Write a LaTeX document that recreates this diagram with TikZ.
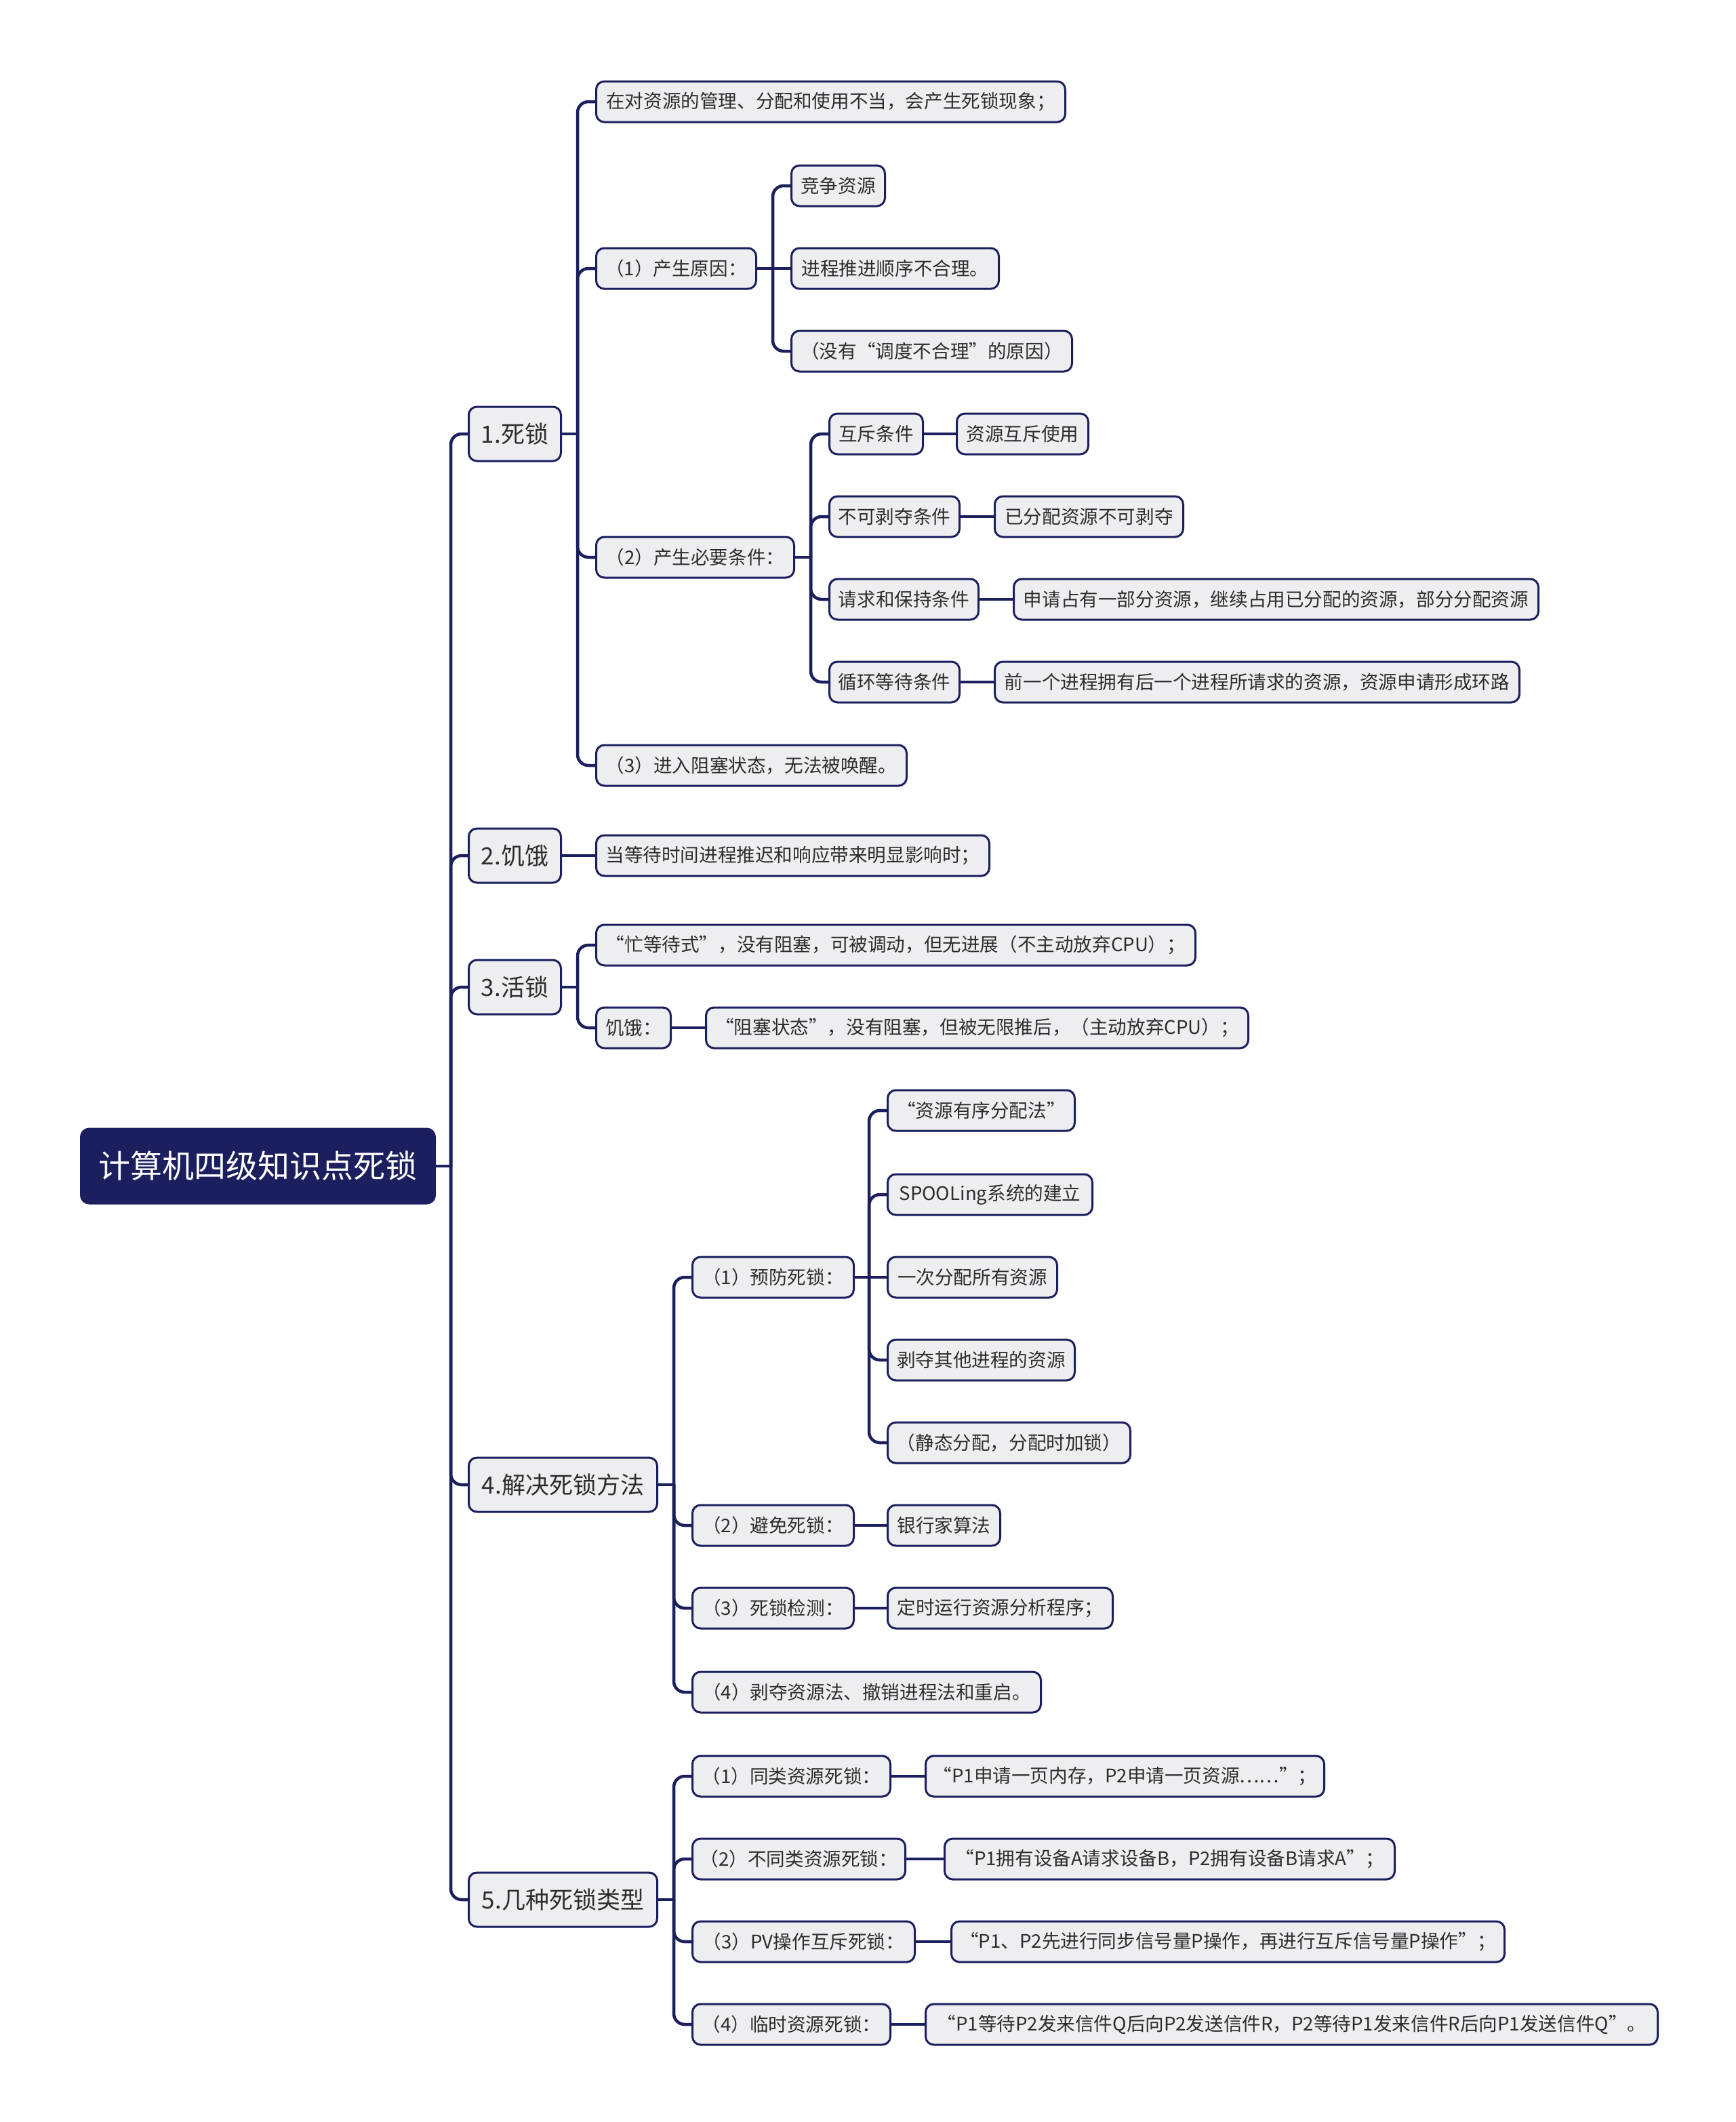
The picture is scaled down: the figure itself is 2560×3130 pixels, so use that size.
\documentclass[tikz,border=0pt]{standalone}
\usepackage{fontspec}
\setmainfont{Noto Sans CJK SC}
\definecolor{navy}{RGB}{27,31,94}
\definecolor{boxgray}{RGB}{238,238,240}
\definecolor{txt}{RGB}{45,45,45}
\begin{document}
\begin{tikzpicture}[x=1pt,y=-1pt,
 conn/.style={draw=navy, line width=4.5pt, line cap=round},
 bconn/.style={conn, rounded corners=16pt},
 box/.style={draw=navy, line width=3pt, fill=boxgray, rounded corners=12pt, anchor=west, text=txt, inner xsep=6pt, inner ysep=0pt, align=center},
 leaf/.style={box, font=\fontsize{27.6}{33}\selectfont, minimum height=60pt},
 lone/.style={box, font=\fontsize{35}{42}\selectfont, minimum height=80pt},
 rootn/.style={box, fill=navy, text=white, font=\fontsize{47}{56}\selectfont, minimum height=110pt}]
\fill[white] (0,0) rectangle (2560,3130);
\useasboundingbox (0,0) rectangle (2560,3130);

% root
\node[rootn, minimum width=522pt] (root) at (118,1720) {计算机四级知识点死锁};

% level 1
\node[lone, minimum width=136pt] (n1) at (690,640) {1.死锁};
\node[lone, minimum width=136pt] (n2) at (690,1262) {2.饥饿};
\node[lone, minimum width=136pt] (n3) at (690,1456) {3.活锁};
\node[lone, minimum width=278pt] (n4) at (690,2190) {4.解决死锁方法};
\node[lone, minimum width=278pt] (n5) at (690,2802) {5.几种死锁类型};

% children of 1
\node[leaf, minimum width=692pt] (a1) at (878,150) {在对资源的管理、分配和使用不当，会产生死锁现象；};
\node[leaf, minimum width=236pt] (a2) at (878,396) {（1）产生原因：};
\node[leaf, minimum width=292pt] (a3) at (878,822) {（2）产生必要条件：};
\node[leaf, minimum width=458pt] (a4) at (878,1129) {（3）进入阻塞状态，无法被唤醒。};

\node[leaf, minimum width=138pt] (c1) at (1166,274) {竞争资源};
\node[leaf, minimum width=306pt] (c2) at (1166,396) {进程推进顺序不合理。};
\node[leaf, minimum width=414pt] (c3) at (1166,518) {（没有“调度不合理”的原因）};

\node[leaf, minimum width=138pt] (b1) at (1222,640) {互斥条件};
\node[leaf, minimum width=192pt] (b2) at (1222,762) {不可剥夺条件};
\node[leaf, minimum width=220pt] (b3) at (1222,884) {请求和保持条件};
\node[leaf, minimum width=192pt] (b4) at (1222,1006) {循环等待条件};
\node[leaf, minimum width=194pt] (d1) at (1410,640) {资源互斥使用};
\node[leaf, minimum width=278pt] (d2) at (1466,762) {已分配资源不可剥夺};
\node[leaf, minimum width=774pt] (d3) at (1494,884) {申请占有一部分资源，继续占用已分配的资源，部分分配资源};
\node[leaf, minimum width=774pt] (d4) at (1466,1006) {前一个进程拥有后一个进程所请求的资源，资源申请形成环路};

% children of 2
\node[leaf, minimum width=580pt] (e1) at (878,1262) {当等待时间进程推迟和响应带来明显影响时；};

% children of 3
\node[leaf, minimum width=884pt] (f1) at (878,1394) {“忙等待式”，没有阻塞，可被调动，但无进展（不主动放弃CPU）；};
\node[leaf, minimum width=110pt] (f2) at (878,1516) {饥饿：};
\node[leaf, minimum width=800pt] (f3) at (1040,1516) {“阻塞状态”，没有阻塞，但被无限推后，（主动放弃CPU）；};

% children of 4
\node[leaf, minimum width=238pt] (g1) at (1020,1884) {（1）预防死锁：};
\node[leaf, minimum width=238pt] (g2) at (1020,2250) {（2）避免死锁：};
\node[leaf, minimum width=238pt] (g3) at (1020,2372) {（3）死锁检测：};
\node[leaf, minimum width=514pt] (g4) at (1020,2496) {（4）剥夺资源法、撤销进程法和重启。};
\node[leaf, minimum width=276pt] (h1) at (1308,1638) {“资源有序分配法”};
\node[leaf, minimum width=302pt] (h2) at (1308,1762) {SPOOLing系统的建立};
\node[leaf, minimum width=250pt] (h3) at (1308,1884) {一次分配所有资源};
\node[leaf, minimum width=276pt] (h4) at (1308,2006) {剥夺其他进程的资源};
\node[leaf, minimum width=358pt] (h5) at (1308,2128) {（静态分配，分配时加锁）};
\node[leaf, minimum width=166pt] (k2) at (1308,2250) {银行家算法};
\node[leaf, minimum width=332pt] (k3) at (1308,2372) {定时运行资源分析程序；};

% children of 5
\node[leaf, minimum width=292pt] (m1) at (1020,2620) {（1）同类资源死锁：};
\node[leaf, minimum width=314pt] (m2) at (1020,2742) {（2）不同类资源死锁：};
\node[leaf, minimum width=328pt] (m3) at (1020,2864) {（3）PV操作互斥死锁：};
\node[leaf, minimum width=292pt] (m4) at (1020,2986) {（4）临时资源死锁：};
\node[leaf, minimum width=588pt] (p1) at (1364,2620) {“P1申请一页内存，P2申请一页资源……”；};
\node[leaf, minimum width=664pt] (p2) at (1392,2742) {“P1拥有设备A请求设备B，P2拥有设备B请求A”；};
\node[leaf, minimum width=816pt] (p3) at (1402,2864) {“P1、P2先进行同步信号量P操作，再进行互斥信号量P操作”；};
\node[leaf, minimum width=1080pt] (p4) at (1364,2986) {“P1等待P2发来信件Q后向P2发送信件R，P2等待P1发来信件R后向P1发送信件Q”。};

% trunk points
\coordinate (t0) at (665,1720);
\coordinate (t1) at (852,640);
\coordinate (ta2) at (1140,396);
\coordinate (ta3) at (1196,822);
\coordinate (t3) at (852,1456);
\coordinate (t4) at (994,2190);
\coordinate (tg1) at (1282,1884);
\coordinate (t5) at (994,2802);

% root
\draw[conn] (root.east) -- (t0);
\foreach \c in {n1,n2,n3,n4,n5} \draw[bconn] (t0) |- (\c.west);
% 1
\draw[conn] (n1.east) -- (t1);
\foreach \c in {a1,a2,a3,a4} \draw[bconn] (t1) |- (\c.west);
\draw[conn] (a2.east) -- (ta2);
\draw[bconn] (ta2) |- (c1.west);
\draw[conn] (ta2) -- (c2.west);
\draw[bconn] (ta2) |- (c3.west);
\draw[conn] (a3.east) -- (ta3);
\foreach \c in {b1,b2,b3,b4} \draw[bconn] (ta3) |- (\c.west);
\draw[conn] (b1.east) -- (d1.west);
\draw[conn] (b2.east) -- (d2.west);
\draw[conn] (b3.east) -- (d3.west);
\draw[conn] (b4.east) -- (d4.west);
% 2
\draw[conn] (n2.east) -- (e1.west);
% 3
\draw[conn] (n3.east) -- (t3);
\foreach \c in {f1,f2} \draw[bconn] (t3) |- (\c.west);
\draw[conn] (f2.east) -- (f3.west);
% 4
\draw[conn] (n4.east) -- (t4);
\foreach \c in {g1,g2,g3,g4} \draw[bconn] (t4) |- (\c.west);
\draw[conn] (g1.east) -- (tg1);
\foreach \c in {h1,h2,h4,h5} \draw[bconn] (tg1) |- (\c.west);
\draw[conn] (tg1) -- (h3.west);
\draw[conn] (g2.east) -- (k2.west);
\draw[conn] (g3.east) -- (k3.west);
% 5
\draw[conn] (n5.east) -- (t5);
\foreach \c in {m1,m2,m3,m4} \draw[bconn] (t5) |- (\c.west);
\draw[conn] (m1.east) -- (p1.west);
\draw[conn] (m2.east) -- (p2.west);
\draw[conn] (m3.east) -- (p3.west);
\draw[conn] (m4.east) -- (p4.west);
\end{tikzpicture}
\end{document}
